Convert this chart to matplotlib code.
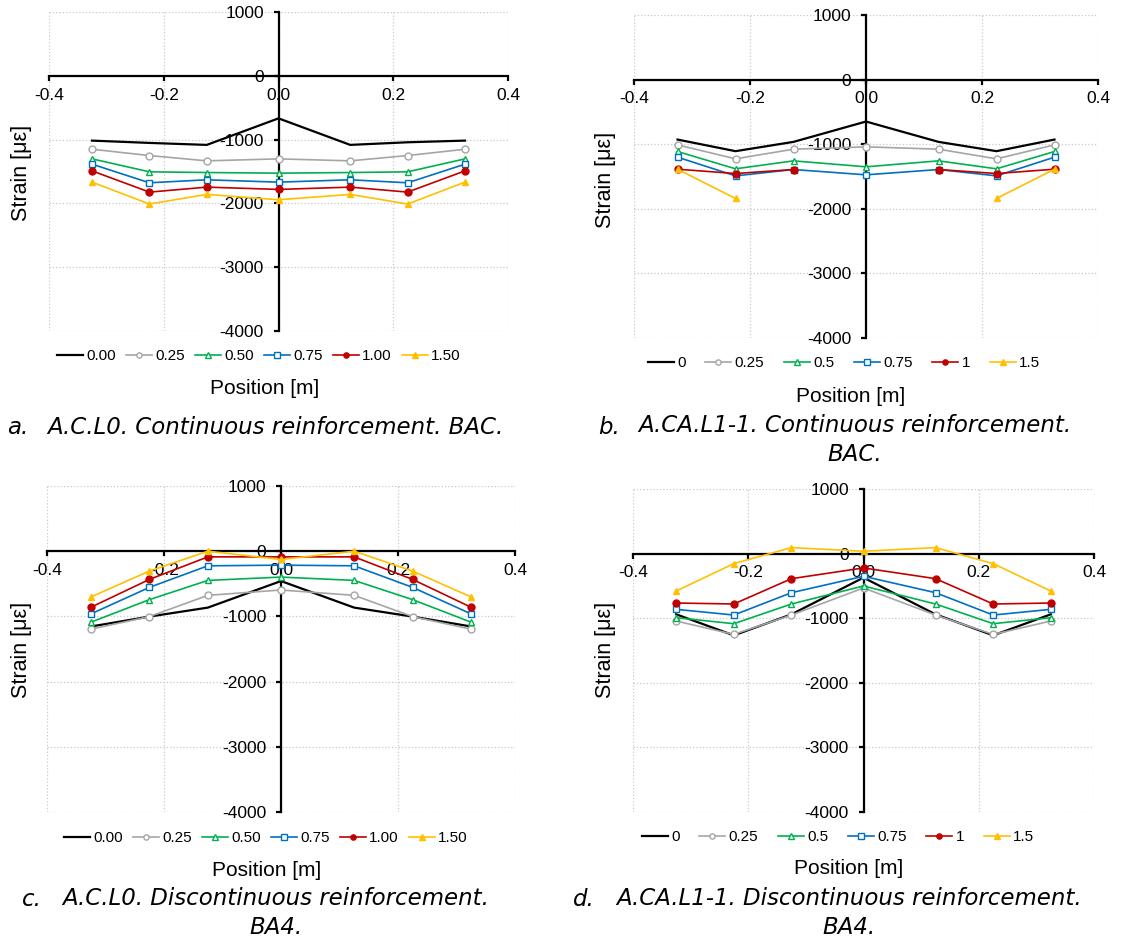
import numpy as np
import matplotlib
matplotlib.use('Agg')
import matplotlib.pyplot as plt

# gauge positions along the span [m]
position = [-0.325, -0.225, -0.125, 0.0, 0.125, 0.225, 0.325]
yticks = [-4000, -3000, -2000, -1000, 0, 1000]
xticks = [-0.4, -0.2, 0.0, 0.2, 0.4]

labels_ac = ['0.00', '0.25', '0.50', '0.75', '1.00', '1.50']
labels_aca = ['0', '0.25', '0.5', '0.75', '1', '1.5']

nan = np.nan

# a. A.C.L0, continuous reinforcement (BAC)
strain_a = [
    [-1016, -1052, -1083, -667, -1083, -1042, -1016],
    [-1151, -1250, -1333, -1302, -1333, -1250, -1151],
    [-1302, -1505, -1516, -1526, -1516, -1505, -1302],
    [-1385, -1677, -1630, -1667, -1630, -1677, -1385],
    [-1490, -1823, -1745, -1781, -1745, -1823, -1490],
    [-1667, -2010, -1859, -1943, -1859, -2010, -1667],
]

# b. A.CA.L1-1, continuous reinforcement (BAC)
strain_b = [
    [-928, -1108, -964, -649, -964, -1108, -928],
    [-1010, -1227, -1077, -1041, -1077, -1227, -1010],
    [-1113, -1381, -1258, -1350, -1258, -1381, -1113],
    [-1201, -1490, -1392, -1474, -1392, -1490, -1201],
    [-1387, -1454, -1392, nan, -1392, -1454, -1387],
    [-1387, -1840, nan, nan, nan, -1840, -1387],
]

# c. A.C.L0, discontinuous reinforcement (BA4)
strain_c = [
    [-1155, -1003, -865, -458, -865, -1003, -1155],
    [-1196, -1003, -677, -595, -677, -1003, -1196],
    [-1089, -743, -448, -397, -448, -743, -1089],
    [-962, -555, -224, -214, -224, -555, -962],
    [-860, -433, -87, -87, -87, -433, -860],
    [-702, -305, 0, -127, 0, -305, -702],
]

# d. A.CA.L1-1, discontinuous reinforcement (BA4)
strain_d = [
    [-940, -1266, -940, -372, -940, -1266, -940],
    [-1044, -1251, -951, -532, -951, -1251, -1044],
    [-992, -1085, -780, -501, -780, -1085, -992],
    [-863, -951, -605, -351, -605, -951, -863],
    [-765, -780, -388, -222, -388, -780, -765],
    [-579, -155, 93, 36, 93, -155, -579],
]

# line style per load level: colour, marker, filled, width
styles = [
    ('#000000', None, True, 1.6),
    ('#A5A5A5', 'o', False, 1.2),
    ('#00B050', '^', False, 1.2),
    ('#0070C0', 's', False, 1.2),
    ('#C00000', 'o', True, 1.2),
    ('#FFC000', '^', True, 1.2),
]

W, H = 1121, 943
fig = plt.figure(figsize=(W / 100, H / 100), dpi=100)
plt.rcParams['font.family'] = ['Liberation Sans', 'DejaVu Sans']


def fx(px):
    return px / W


def fy(py):
    return 1 - py / H


def strain_panel(box, data, labels, legend_x, legend_y, colsp, xlabel_xy, ylabel_xy):
    left, top, right, bottom = box
    ax = fig.add_axes([fx(left), fy(bottom), fx(right - left), (bottom - top) / H])
    handles = []
    for vals, lab, (col, mk, filled, lw) in zip(data, labels, styles):
        h, = ax.plot(position, vals, color=col, lw=lw, marker=mk, ms=5,
                     mfc=col if filled else 'white', mec=col, mew=1.0,
                     label=lab, zorder=3)
        handles.append(h)

    ax.set_xlim(-0.4, 0.4)
    ax.set_ylim(-4000, 1000)
    ax.set_xticks(xticks)
    ax.set_yticks(yticks)
    ax.set_xticklabels(['-0.4', '-0.2', '0.0', '0.2', '0.4'])
    ax.set_yticklabels([str(v) for v in yticks])
    ax.grid(True, color='#C8C8C8', ls=':', lw=0.9)

    for s in ('top', 'right'):
        ax.spines[s].set_visible(False)
    ax.spines['left'].set_position(('data', 0))
    ax.spines['bottom'].set_position(('data', 0))
    ax.spines['left'].set_linewidth(1.6)
    ax.spines['bottom'].set_linewidth(1.6)
    ax.tick_params(axis='both', direction='out', length=3.5, width=1.6,
                   labelsize=12.5, colors='black')
    ax.tick_params(axis='x', pad=5)
    ax.tick_params(axis='y', pad=7)

    fig.legend(handles=handles, loc='center', ncol=6, frameon=False,
               bbox_to_anchor=(fx(legend_x), fy(legend_y)),
               fontsize=11, handlelength=1.7, handletextpad=0.2,
               columnspacing=colsp, markerscale=0.75)
    fig.text(fx(xlabel_xy[0]), fy(xlabel_xy[1]), 'Position [m]', fontsize=15,
             ha='center', va='center')
    fig.text(fx(ylabel_xy[0]), fy(ylabel_xy[1]), 'Strain [\u03bc\u03b5]', fontsize=15.5,
             ha='center', va='center', rotation=90)
    return ax


strain_panel((49, 12, 508, 331), strain_a, labels_ac, 259, 356, 0.68, (265, 388), (22, 173))
strain_panel((634, 15, 1098, 338), strain_b, labels_aca, 844, 363, 1.3, (851, 397), (605, 180))
strain_panel((47, 486, 515, 812), strain_c, labels_ac, 266, 838, 0.68, (267, 870), (22, 650))
strain_panel((633, 489, 1094, 812), strain_d, labels_aca, 838, 837, 1.3, (849, 869), (605, 650))

# sub-figure captions
cap = dict(fontsize=16.5, style='italic', family='DejaVu Sans', va='center')
two = dict(ha='center', multialignment='center', linespacing=1.3)
fig.text(fx(7), fy(428), 'a.', ha='left', **cap)
fig.text(fx(275), fy(428), 'A.C.L0. Continuous reinforcement. BAC.', ha='center', **cap)
fig.text(fx(598), fy(427), 'b.', ha='left', **cap)
fig.text(fx(855), fy(440), 'A.CA.L1-1. Continuous reinforcement.\nBAC.', **two, **cap)
fig.text(fx(22), fy(900), 'c.', ha='left', **cap)
fig.text(fx(276), fy(913), 'A.C.L0. Discontinuous reinforcement.\nBA4.', **two, **cap)
fig.text(fx(573), fy(900), 'd.', ha='left', **cap)
fig.text(fx(849), fy(913), 'A.CA.L1-1. Discontinuous reinforcement.\nBA4.', **two, **cap)

fig.savefig('out.png', dpi=100)
